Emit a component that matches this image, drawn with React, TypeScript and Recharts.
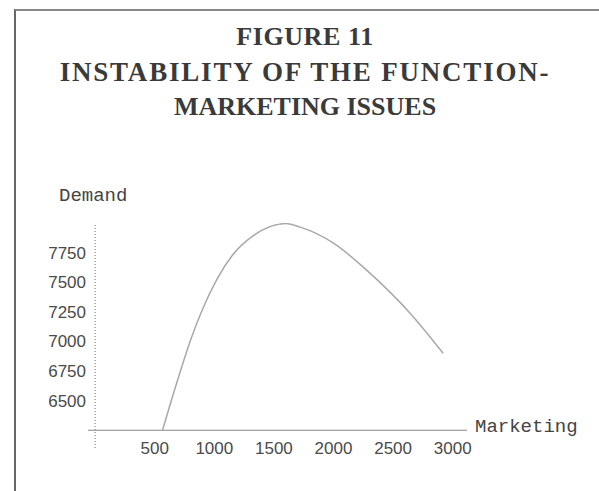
import { Line, LineChart, ReferenceLine, XAxis, YAxis } from "recharts";

const marketing = [565, 700, 800, 900, 1025, 1150, 1330, 1600, 1720, 2000, 2280, 2650, 2920];
const demand = [6250, 6700, 7010, 7270, 7530, 7725, 7895, 7995, 7965, 7830, 7600, 7230, 6900];
const xTicks = [500, 1000, 1500, 2000, 2500, 3000];
const yTicks = [6500, 6750, 7000, 7250, 7500, 7750];
const titleLines = ["FIGURE 11", "INSTABILITY OF THE FUNCTION-", "MARKETING ISSUES"];

const data = marketing.map((m, i) => ({ marketing: m, demand: demand[i] }));

const tickFont = { fontFamily: "Liberation Sans, Arial, sans-serif", fontSize: 17, fill: "#4a4a4a" };

const renderXTick = ({ x, y, payload }: any) => (
  <text x={x} y={y} dy={6} textAnchor="middle" {...tickFont}>
    {payload.value}
  </text>
);

export default function App() {
  return (
    <div style={{ position: "absolute", left: 0, top: 0, width: 599, height: 491, background: "#fff", overflow: "hidden" }}>
      {/* scanned frame */}
      <div style={{ position: "absolute", left: 14, top: 9, width: 590, height: 500, borderLeft: "2px solid #666", borderTop: "2px solid #888" }} />
      {titleLines.map((t, i) => (
        <div
          key={t}
          style={{
            position: "absolute",
            left: 0,
            width: 610,
            top: 22 + i * 35,
            textAlign: "center",
            fontFamily: "Liberation Serif, Times New Roman, serif",
            fontWeight: "bold",
            fontSize: i === 1 ? 27 : 26,
            letterSpacing: i === 1 ? 1.8 : i === 0 ? 0.6 : 0,
            lineHeight: "30px",
            color: "#3a3a3a",
          }}
        >
          {t}
        </div>
      ))}
      <div style={{ position: "absolute", left: 59, top: 185, fontFamily: "Liberation Mono, Courier New, monospace", fontSize: 19, color: "#444" }}>
        Demand
      </div>
      <div style={{ position: "absolute", left: 475, top: 416, fontFamily: "Liberation Mono, Courier New, monospace", fontSize: 19, color: "#444" }}>
        Marketing
      </div>
      <LineChart
        width={599}
        height={491}
        data={data}
        margin={{ top: 223, right: 132, bottom: 13, left: 28 }}
        style={{ position: "absolute", left: 0, top: 0 }}
      >
        <XAxis
          type="number"
          dataKey="marketing"
          domain={[-60, 3120]}
          ticks={xTicks}
          axisLine={false}
          tickLine={false}
          tickSize={0}
          tickMargin={0}
          tick={renderXTick}
          interval={0}
          height={30}
          allowDataOverflow
        />
        <YAxis
          type="number"
          domain={[6100, 8000]}
          ticks={yTicks}
          axisLine={false}
          tickLine={false}
          tickSize={0}
          tickMargin={2}
          width={60}
          interval={0}
          tick={tickFont}
          allowDataOverflow
        />
        <ReferenceLine
          x={0}
          segment={[{ x: 0, y: 6100 }, { x: 0, y: 8000 }]}
          stroke="#888"
          strokeWidth={1.2}
          strokeDasharray="1 2"
        />
        <ReferenceLine
          y={6250}
          segment={[{ x: -60, y: 6250 }, { x: 3120, y: 6250 }]}
          stroke="#888"
          strokeWidth={1.2}
        />
        <Line
          type="monotone"
          dataKey="demand"
          stroke="#a8a8a8"
          strokeWidth={1.5}
          dot={false}
          isAnimationActive={false}
        />
      </LineChart>
    </div>
  );
}
